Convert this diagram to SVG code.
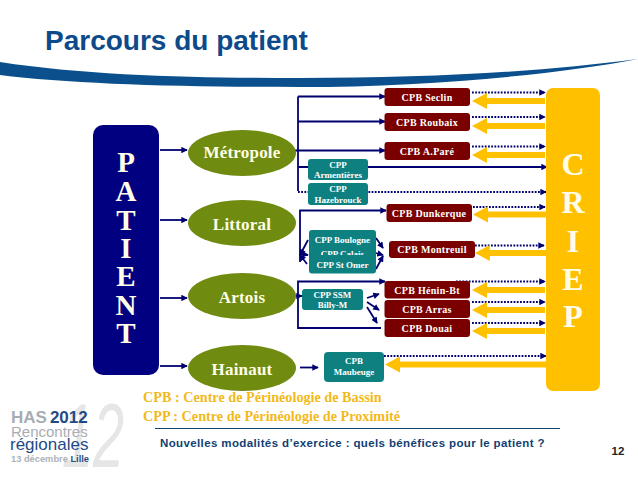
<svg xmlns="http://www.w3.org/2000/svg" width="638" height="479" viewBox="0 0 638 479">
<style>
text{font-family:"Liberation Serif","Times New Roman",serif;font-weight:bold;text-anchor:middle}
.cpb{fill:#7a0000}.cpp{fill:#0f8080}.el{fill:#6f8c10}
.t{fill:#fff;font-size:10px;letter-spacing:.3px}
.s{fill:#fff;font-size:9px}
.el-t{fill:#fffde8;font-size:17px;letter-spacing:.2px}
.big{fill:#fffde8;font-size:29px}
.line{fill:none;stroke:#000070;stroke-width:1.8}
.dot{fill:none;stroke:#000070;stroke-width:1.8;stroke-dasharray:1.8 1.4}
.gold{fill:#ffc000}
.leg{fill:#f3b91a;font-size:14.200px;text-anchor:start}
.san{font-family:"Liberation Sans",Arial,sans-serif}
</style>
<defs>
<marker id="a" viewBox="0 0 8 8" refX="7" refY="4" markerWidth="6.500" markerHeight="6.500" markerUnits="userSpaceOnUse" orient="auto"><path d="M0 0L8 4L0 8Z" fill="#000070"/></marker>
<clipPath id="cal"><rect x="309" y="240" width="67" height="15"/></clipPath>
<path id="g" d="M0 0L15 -8L15 -3L73 -3L73 3L15 3L15 8Z" class="gold"/>
</defs>
<path id="swoosh" d="M0 62C90 76 200 78 300 78C430 78 540 72 638 59C560 74 430 87 300 87C180 87 70 84 0 75Z" fill="#0b4f8c"/>
<text x="45" y="50" class="san" style="text-anchor:start;font-size:28px;fill:#0d4a8a">Parcours du patient</text>

<g id="connectors">
<path class="line" marker-end="url(#a)" d="M160 150H187"/>
<path class="line" marker-end="url(#a)" d="M160 220H187"/>
<path class="line" marker-end="url(#a)" d="M160 298H187"/>
<path class="line" marker-end="url(#a)" d="M160 366H187"/>
<path class="line" d="M298 96.500V191"/>
<path class="line" marker-end="url(#a)" d="M298 96.500H385"/>
<path class="line" marker-end="url(#a)" d="M298 121.500H385"/>
<path class="line" marker-end="url(#a)" d="M295 150.500H385"/>
<path class="line" marker-end="url(#a)" d="M298 167H547"/>
<path class="dot" marker-end="url(#a)" d="M298 192H546"/>
<path class="line" marker-end="url(#a)" d="M300 262V210.500H386"/>
<path class="line" marker-end="url(#a)" d="M308 240L300 255"/>
<path class="line" marker-end="url(#a)" d="M307 264L300 255"/>
<path class="line" marker-end="url(#a)" d="M300 254L308 255"/>
<path class="line" marker-end="url(#a)" d="M376 238L383 248"/>
<path class="line" marker-end="url(#a)" d="M376 253L383 255"/>
<path class="line" marker-end="url(#a)" d="M376 269L383 256"/>
<path class="line" marker-end="url(#a)" d="M381 328H298V281.500H385"/>
<path class="line" marker-end="url(#a)" d="M296 296H302"/>
<path class="line" marker-end="url(#a)" d="M367 298L379 294"/>
<path class="line" marker-end="url(#a)" d="M367 302L379 310"/>
<path class="line" marker-end="url(#a)" d="M367 307L377 323"/>
<path class="line" marker-end="url(#a)" d="M300 367.500H318"/>
<path class="dot" marker-end="url(#a)" d="M472 92.500H545"/>
<path class="dot" marker-end="url(#a)" d="M472 117H545"/>
<path class="dot" marker-end="url(#a)" d="M472 146.500H545"/>
<path class="dot" marker-end="url(#a)" d="M473 207H545"/>
<path class="dot" marker-end="url(#a)" d="M475 245.500H544"/>
<path class="dot" marker-end="url(#a)" d="M456 281.500H545"/>
<path class="dot" marker-end="url(#a)" d="M472 302H545"/>
<path class="dot" marker-end="url(#a)" d="M472 323H545"/>
<path class="dot" marker-end="url(#a)" d="M384 356H546"/>
<use href="#g" x="472" y="101"/>
<use href="#g" x="472" y="126"/>
<use href="#g" x="472" y="155"/>
<use href="#g" x="473" y="214.500"/>
<use href="#g" transform="translate(475 253) scale(.99 1)"/>
<use href="#g" x="472" y="290"/>
<use href="#g" x="472" y="310"/>
<use href="#g" x="472" y="331"/>
<path class="gold" d="M385 364.500L400 356.500V361.500H546V367.500H400V372.500Z"/>
</g>

<g id="patient"><rect x="93" y="125" width="66" height="250" rx="10" fill="#000080"/>
<text class="big" x="126" y="172">P</text><text class="big" x="126" y="201">A</text><text class="big" x="126" y="230">T</text><text class="big" x="126" y="258">I</text><text class="big" x="126" y="286">E</text><text class="big" x="126" y="315">N</text><text class="big" x="126" y="343">T</text></g>
<g id="criep"><rect x="546" y="88" width="54" height="303" rx="7" fill="#ffc000"/>
<text class="big" style="font-size:32px" x="573" y="175">C</text><text class="big" style="font-size:32px" x="573" y="213">R</text><text class="big" style="font-size:32px" x="573" y="252">I</text><text class="big" style="font-size:32px" x="573" y="290">E</text><text class="big" style="font-size:32px" x="573" y="327">P</text></g>

<g id="metropole"><ellipse class="el" cx="242" cy="153" rx="54" ry="23"/><text class="el-t" x="242" y="158">Métropole</text></g>
<g id="littoral"><ellipse class="el" cx="242" cy="223" rx="54" ry="23"/><text class="el-t" x="242" y="230">Littoral</text></g>
<g id="artois"><ellipse class="el" cx="242" cy="296" rx="54" ry="23"/><text class="el-t" x="242" y="303">Artois</text></g>
<g id="hainaut"><ellipse class="el" cx="242" cy="368" rx="54" ry="23"/><text class="el-t" x="242" y="375">Hainaut</text></g>

<g id="seclin"><rect class="cpb" x="384.500" y="88" width="85.500" height="18" rx="3"/><text class="t" x="427" y="100.500">CPB Seclin</text></g>
<g id="roubaix"><rect class="cpb" x="384.500" y="113" width="85.500" height="18" rx="3"/><text class="t" x="427" y="125.500">CPB Roubaix</text></g>
<g id="pare"><rect class="cpb" x="384.500" y="142" width="85.500" height="18" rx="3"/><text class="t" x="427" y="154.500">CPB A.Paré</text></g>
<g id="armentieres"><rect class="cpp" x="308" y="159" width="60" height="21" rx="3"/><text class="s" x="338" y="167.500">CPP</text><text class="s" x="338" y="178">Armentières</text></g>
<g id="hazebrouck"><rect class="cpp" x="308" y="183" width="60" height="22" rx="3"/><text class="s" x="338" y="192">CPP</text><text class="s" x="338" y="203">Hazebrouck</text></g>
<g id="dunkerque"><rect class="cpb" x="386.500" y="204" width="85.500" height="18" rx="3"/><text class="t" x="429" y="216.500">CPB Dunkerque</text></g>
<g id="boulogne"><rect class="cpp" x="309" y="230" width="67" height="43.500" rx="3"/><text class="s" x="342.500" y="242.500">CPP Boulogne</text><text class="s" x="342.500" y="257" clip-path="url(#cal)">CPP Calais</text><text class="s" x="342.500" y="268">CPP St Omer</text></g>
<g id="montreuil"><rect class="cpb" x="389" y="241" width="86" height="17" rx="3"/><text class="t" x="432" y="253">CPB Montreuil</text></g>
<g id="henin"><rect class="cpb" x="384.500" y="281" width="85.500" height="17.500" rx="3"/><text class="t" x="427" y="294">CPB Hénin-Bt</text></g>
<g id="arras"><rect class="cpb" x="384.500" y="300" width="85.500" height="18" rx="3"/><text class="t" x="427" y="313">CPB Arras</text></g>
<g id="douai"><rect class="cpb" x="384.500" y="319" width="85.500" height="18" rx="3"/><text class="t" x="427" y="332">CPB Douai</text></g>
<g id="ssm"><rect class="cpp" x="302" y="289" width="61" height="21" rx="3"/><text class="s" x="332.500" y="298">CPP SSM</text><text class="s" x="332.500" y="308">Billy-M</text></g>
<g id="maubeuge"><rect class="cpp" x="324" y="352" width="60" height="30" rx="4"/><text class="s" x="354" y="364">CPB</text><text class="s" x="354" y="375">Maubeuge</text></g>

<text class="leg" x="143" y="402">CPB : Centre de Périnéologie de Bassin</text>
<text class="leg" x="143" y="421">CPP : Centre de Périnéologie de Proximité</text>
<path d="M155 428.500H560" stroke="#16406f" stroke-width="1"/>
<text class="san" x="160" y="447" style="text-anchor:start;font-size:11.500px;fill:#123f73;letter-spacing:.38px">Nouvelles modalités d’exercice : quels bénéfices pour le patient ?</text>
<text class="san" x="618" y="455" style="font-size:11.500px;fill:#222">12</text>

<g id="logo">
<text class="san" transform="translate(93 467) scale(.62 1)" style="font-size:90px;font-style:italic;font-weight:normal;fill:#e6e6e6">12</text>
<text class="san" x="11" y="423" style="text-anchor:start;font-size:17px"><tspan fill="#a8adb3">HAS</tspan><tspan fill="#1f4a86" dx="3">2012</tspan></text>
<text class="san" x="11" y="437" style="text-anchor:start;font-size:15px;font-weight:normal;fill:#a9adb2">Rencontres</text>
<text class="san" x="10" y="450" style="text-anchor:start;font-size:17px;font-weight:normal;fill:#1f4a86">régionales</text>
<text class="san" x="11" y="462" style="text-anchor:start;font-size:9.300px;fill:#aeb2b6">13 décembre <tspan fill="#2d4f80">Lille</tspan></text>
</g>
</svg>
